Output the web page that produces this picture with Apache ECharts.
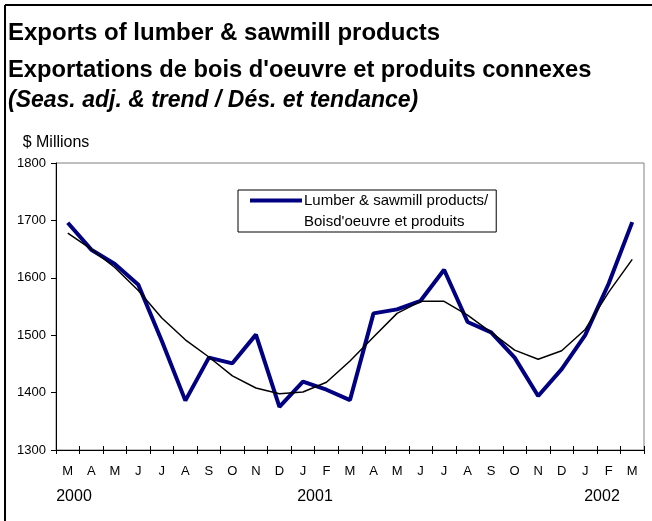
<!DOCTYPE html>
<html>
<head>
<meta charset="utf-8">
<script src="https://cdn.jsdelivr.net/npm/echarts@6/dist/echarts.min.js"></script>
<style>
html,body{margin:0;padding:0;background:#fff;}
#c{width:652px;height:521px;}
</style>
</head>
<body>
<div id="c"></div>
<script>
var months = ['M','A','M','J','J','A','S','O','N','D','J','F','M','A','M','J','J','A','S','O','N','D','J','F','M'];
var exportsSA = [1696,1649,1624,1588,1490,1386,1461,1451,1501,1375,1419,1405,1387,1538,1545,1560,1614,1523,1505,1461,1394,1441,1500,1590,1697];
var trend = [1678,1650,1618,1578,1530,1492,1462,1429,1408,1398,1401,1418,1455,1497,1538,1559,1559,1535,1505,1474,1458,1473,1510,1575,1632];
var yTicks = [1300,1400,1500,1600,1700,1800];
var years = [{label:'2000', x:74},{label:'2001', x:315},{label:'2002', x:602}];
var seriesName = "Lumber & sawmill products/ Boisd'oeuvre et produits";

var FONT = '"Liberation Sans", Arial, sans-serif';
var chart = echarts.init(document.getElementById('c'));
var option = {
  animation: false,
  backgroundColor: '#fff',
  textStyle: {fontFamily: FONT},
  title: [
    {text: 'Exports of lumber & sawmill products', left: 8, top: 20, padding: 0,
     textStyle: {fontFamily: FONT, fontSize: 24, fontWeight: 'bold', color: '#000', lineHeight: 26}},
    {text: "Exportations de bois d'oeuvre et produits connexes", left: 8, top: 57, padding: 0,
     textStyle: {fontFamily: FONT, fontSize: 23.7, fontWeight: 'bold', color: '#000', lineHeight: 26}},
    {text: '(Seas. adj. & trend / Dés. et tendance)', left: 8, top: 89, padding: 0,
     textStyle: {fontFamily: FONT, fontSize: 23, fontWeight: 'bold', fontStyle: 'italic', color: '#000', lineHeight: 24}}
  ],
  grid: {left: 56, right: 8, top: 163, bottom: 71, show: true, borderColor: '#808080', borderWidth: 1, backgroundColor: 'transparent'},
  legend: {
    data: [seriesName],
    left: 238, top: 190,
    orient: 'vertical',
    padding: [0, 8, 0, 12],
    backgroundColor: '#fff',
    borderColor: '#000', borderWidth: 1,
    itemWidth: 52, itemHeight: 25,
    icon: 'path://M0 0H52V4H0Z M0 25H1',
    itemStyle: {borderWidth: 0},
    formatter: function () { return 'Lumber & sawmill products/\nBoisd\'oeuvre et produits'; },
    textStyle: {fontFamily: FONT, fontSize: 15, color: '#000', lineHeight: 21, padding: [0,0,0,-3]}
  },
  xAxis: [
    {type: 'category', data: months, boundaryGap: true, position: 'bottom',
     axisLine: {lineStyle: {color: '#000', width: 1}},
     axisTick: {show: true, length: 4, lineStyle: {color: '#000'}},
     axisLabel: {fontFamily: FONT, fontSize: 13, color: '#000', margin: 15, interval: 0},
     splitLine: {show: false}},
    {type: 'category', data: months, boundaryGap: true, position: 'bottom', offset: 0,
     axisLine: {show: false},
     axisTick: {show: true, inside: true, length: 4, lineStyle: {color: '#000'}},
     axisLabel: {show: false},
     splitLine: {show: false}}
  ],
  yAxis: {
    type: 'value', min: yTicks[0], max: yTicks[yTicks.length-1], interval: 100,
    name: '$ Millions', nameLocation: 'end', nameGap: 12,
    nameTextStyle: {fontFamily: FONT, fontSize: 16, color: '#000', align: 'center'},
    axisLine: {show: true, lineStyle: {color: '#000', width: 1}},
    axisTick: {show: true, length: 5, lineStyle: {color: '#000'}},
    axisLabel: {fontFamily: FONT, fontSize: 13, color: '#000', margin: 10,
      formatter: function (v) { return String(v); }},
    splitLine: {show: false}
  },
  series: [
    {name: seriesName, type: 'line', data: exportsSA, symbol: 'none', xAxisIndex: 0,
     lineStyle: {color: '#000080', width: 4}, itemStyle: {color: '#000080'}, z: 2},
    {name: 'Trend', type: 'line', data: trend, symbol: 'none', xAxisIndex: 0,
     lineStyle: {color: '#000', width: 1.5}, itemStyle: {color: '#000'}, z: 3}
  ],
  graphic: [
    {type: 'line', shape: {x1: 5, y1: 5, x2: 652, y2: 5}, style: {stroke: '#000', lineWidth: 2}},
    {type: 'line', shape: {x1: 5, y1: 5, x2: 5, y2: 521}, style: {stroke: '#000', lineWidth: 2}}
  ].concat(years.map(function (y) {
    return {type: 'text', x: y.x, y: 497, style: {text: y.label, fontFamily: FONT, fontSize: 16, fill: '#000', align: 'center', verticalAlign: 'middle'}};
  }))
};
chart.setOption(option);
</script>
</body>
</html>
